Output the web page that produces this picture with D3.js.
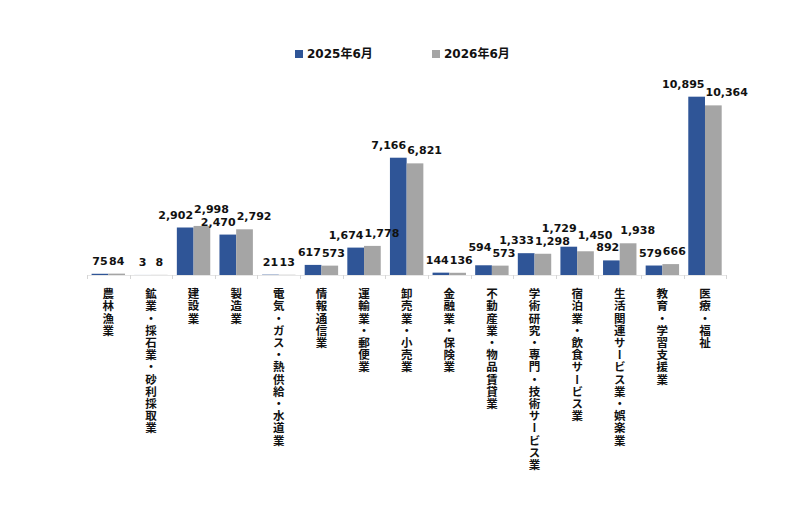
<!DOCTYPE html>
<html><head><meta charset="utf-8">
<script src="https://cdn.jsdelivr.net/npm/d3@7"></script>
<style>body{margin:0;background:#fff}svg{display:block}</style>
</head><body><svg id="c" width="800" height="511"></svg>
<script>
const categories = ["農林漁業","鉱業・採石業・砂利採取業","建設業","製造業","電気・ガス・熱供給・水道業","情報通信業","運輸業・郵便業","卸売業・小売業","金融業・保険業","不動産業・物品賃貸業","学術研究・専門・技術サービス業","宿泊業・飲食サービス業","生活関連サービス業・娯楽業","教育・学習支援業","医療・福祉"];
const seriesNames = ["2025年6月","2026年6月"];
const values2025 = [75,3,2902,2470,21,617,1674,7166,144,594,1333,1729,892,579,10895];
const values2026 = [84,8,2998,2792,13,573,1778,6821,136,573,1298,1450,1938,666,10364];
const colors = ["#2F5597","#A5A5A5"];

const svg = d3.select("#c");
const baseY = 275;
const x0 = d3.scaleBand().domain(categories).range([87, 726.3]).paddingInner(0.216).paddingOuter(0.108);
const x1 = d3.scaleBand().domain(seriesNames).range([0, x0.bandwidth()]);
const y = d3.scaleLinear().domain([0, 12000]).range([baseY, baseY - 196.4]);
const fmt = d3.format(",");
const numFont = "'DejaVu Sans','Noto Sans CJK JP',sans-serif";

// axis line and ticks
const step = x0.step();
const axisStart = x0.range()[0];
svg.append("line").attr("x1", axisStart).attr("x2", x0.range()[1]).attr("y1", baseY + 0.5).attr("y2", baseY + 0.5)
  .attr("stroke", "#e6e6e6").attr("stroke-width", 1);
d3.range(categories.length + 1).forEach(i => {
  const xx = Math.round(axisStart + i * step) + 0.5;
  svg.append("line").attr("x1", xx).attr("x2", xx).attr("y1", baseY).attr("y2", baseY + 4)
    .attr("stroke", "#d6d6d6");
});

const data = categories.map((c, i) => ({cat: c, vals: [values2025[i], values2026[i]]}));
const g = svg.selectAll("g.grp").data(data).join("g").attr("class", "grp")
  .attr("transform", d => `translate(${x0(d.cat)},0)`);

g.selectAll("rect").data(d => d.vals.map((v, j) => ({v, j}))).join("rect")
  .attr("x", d => x1(seriesNames[d.j]))
  .attr("width", x1.bandwidth())
  .attr("y", d => y(d.v))
  .attr("height", d => baseY - y(d.v))
  .attr("fill", d => colors[d.j]);

// value labels (own layer, above bars)
const labelLayer = svg.append("g");
const labels = [];
data.forEach(d => {
  const gx = x0(d.cat);
  const center = gx + x0.bandwidth() / 2;
  d.vals.forEach((v, j) => {
    const t = labelLayer.append("text").text(fmt(v))
      .attr("font-family", numFont).attr("font-weight", "bold").attr("font-size", 11)
      .attr("fill", "#111");
    const w = t.node().getComputedTextLength();
    const bc = gx + x1(seriesNames[j]) + x1.bandwidth() / 2;
    let left;
    if (j === 0) left = Math.min(bc + w / 2, center - 0.5) - w;
    else left = Math.max(bc - w / 2, center + 0.5);
    labels.push({t, left, w, base: y(v) - 9});
  });
});
// simple collision avoidance: lower labels placed first, higher ones pushed up
const H = 12.5;
const placed = [];
labels.slice().sort((a, b) => b.base - a.base).forEach(l => {
  let moved = true;
  while (moved) {
    moved = false;
    for (const p of placed) {
      const hx = l.left < p.left + p.w && p.left < l.left + l.w;
      const vy = (l.base - H) < p.base && (p.base - H) < l.base;
      if (hx && vy) { l.base = p.base - H - 0.2; moved = true; }
    }
  }
  placed.push(l);
  l.t.attr("x", l.left).attr("y", l.base);
});

// category labels (vertical writing)
svg.selectAll("text.cat").data(categories).join("text").attr("class", "cat")
  .attr("x", d => x0(d) + x0.bandwidth() / 2)
  .attr("y", 288)
  .style("writing-mode", "vertical-rl")
  .style("letter-spacing", "0.7px")
  .attr("font-family", "'Noto Sans CJK JP',sans-serif")
  .attr("font-weight", "bold").attr("font-size", 11.5).attr("fill", "#111")
  .text(d => d);

// legend
const legendX = [295, 432];
seriesNames.forEach((s, i) => {
  svg.append("rect").attr("x", legendX[i]).attr("y", 50).attr("width", 8).attr("height", 8).attr("fill", colors[i]);
  svg.append("text").attr("x", legendX[i] + 12).attr("y", 58).text(s)
    .attr("font-family", numFont).attr("font-weight", "bold").attr("font-size", 12).attr("fill", "#111");
});
</script></body></html>
